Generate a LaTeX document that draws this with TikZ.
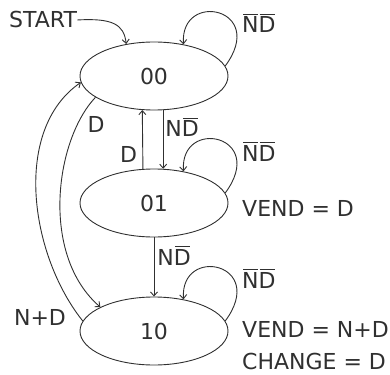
\documentclass[tikz,border=0pt]{standalone}
\usepackage{fontspec}
\setmainfont{DejaVu Sans}
\usetikzlibrary{shapes.geometric,arrows.meta,calc}
% overbar drawn as a rule above a letter
\newcommand\ovr[1]{\setbox0\hbox{#1}\rlap{\kern1pt\vrule width\dimexpr\wd0-2pt\relax height\dimexpr\ht0+2.6pt\relax depth -\dimexpr\ht0+1.7pt\relax}\box0}
\definecolor{ink}{HTML}{303030}
\tikzset{
  state/.style={ellipse, draw=ink, line width=0.9pt, minimum width=148pt, minimum height=68pt, inner sep=0pt, text=ink},
  arr/.style={draw=ink, line width=0.9pt, -{Straight Barb[length=4pt,width=7pt]}},
  lbl/.style={inner sep=0pt, text=ink},
}
\begin{document}
\begin{tikzpicture}[x=1pt, y=-1pt, font=\fontsize{22}{26}\selectfont]
\useasboundingbox (0,0) rectangle (390,374);

% states
\node[state] (n00) at (154,76) {00};
\node[state] (n01) at (154,203) {01};
\node[state] (n10) at (154,331) {10};

% initial arrow
\node[lbl, anchor=base west] (start) at (9,28) {START};
\draw[arr] (start.east) .. controls (112,18) and (124,24) .. (n00.131);

% self loops with their labels
\foreach \s in {n00, n01, n10} {
  \draw[arr] (\s.8) .. controls ($(\s.center)+(114,-68)$) and ($(\s.center)+(26,-86)$) .. (\s.47);
}
\node[lbl, anchor=base west] (l00) at (242,33) {\ovr{N}\ovr{D}};
\node[lbl, anchor=base west] (l01) at (242,161) {\ovr{N}\ovr{D}};
\node[lbl, anchor=base west] (l10) at (242,288) {\ovr{N}\ovr{D}};

% outputs
\node[lbl, anchor=base west] (o01) at (242,216) {VEND = D};
\node[lbl, anchor=base west] (o10a) at (242,337) {VEND = N+D};
\node[lbl, anchor=base west] (o10b) at (242,369) {CHANGE = D};

% vertical transitions
\draw[arr] (n00.-75) -- (n01.75);
\node[lbl, anchor=base] (t1) at (182,137) {N\ovr{D}};
\draw[arr] (n01.108.1) -- (n00.251.9);
\node[lbl, anchor=base] (t2) at (128.5,162) {D};
\draw[arr] (n01.south) -- (n10.north);
\node[lbl, anchor=base] (t3) at (174,265) {N\ovr{D}};

% long transitions on the left
\draw[arr] (n00.200.8) .. controls (55,140) and (40,255) .. (n10.156.7);
\node[lbl, anchor=base] (t4) at (96,133) {D};
\draw[arr] (n10.172.3) .. controls (30,255) and (12,130) .. (n00.185);
\node[lbl, anchor=base] (t5) at (40,325) {N+D};
\end{tikzpicture}
\end{document}
